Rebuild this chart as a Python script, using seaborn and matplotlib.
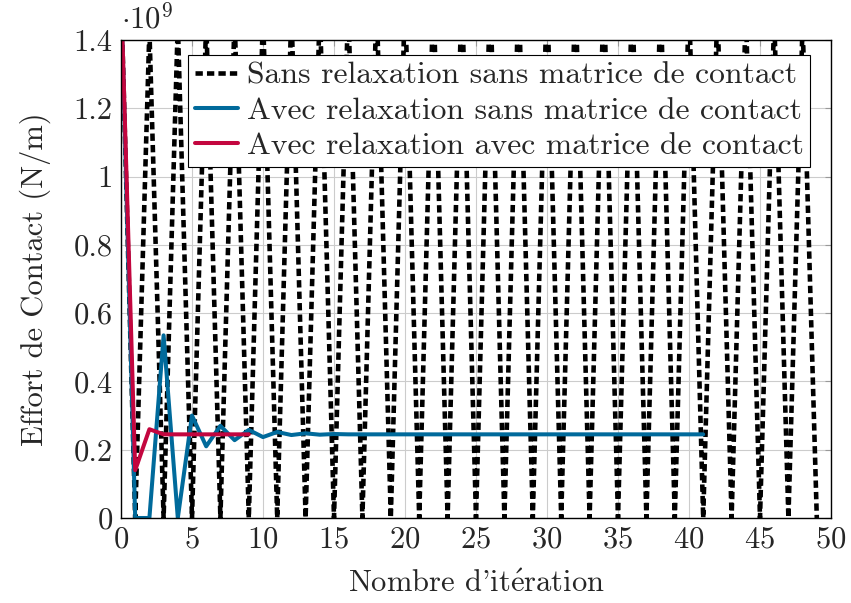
import numpy as np
import pandas as pd
import matplotlib
matplotlib.use("Agg")
import matplotlib.pyplot as plt
import seaborn as sns

# Effort de contact, en 10^9 N/m
it_sans = list(range(50))
effort_sans = [1.55, 0, 1.43, 0, 1.45, 0, 1.46, 0, 1.47, 0,
               1.48, 0, 1.49, 0, 1.50, 0, 1.51, 0, 1.52, 0,
               1.53, 0, 1.54, 0, 1.55, 0, 1.55, 0, 1.55, 0,
               1.55, 0, 1.55, 0, 1.55, 0, 1.54, 0, 1.53, 0,
               1.52, 0, 1.50, 0, 1.49, 0, 1.47, 0, 1.45, 0]

it_relax = list(range(42))
effort_relax = [1.55, 0, 0, 0.535, 0, 0.30, 0.21, 0.27, 0.228, 0.258,
                0.237, 0.252, 0.243, 0.248, 0.244, 0.246, 0.245, 0.245, 0.245, 0.245,
                0.245, 0.245, 0.245, 0.245, 0.245, 0.245, 0.245, 0.245, 0.245, 0.245,
                0.245, 0.245, 0.245, 0.245, 0.245, 0.245, 0.245, 0.245, 0.245, 0.245,
                0.245, 0.245]

it_matrice = list(range(10))
effort_matrice = [1.55, 0.14, 0.26, 0.245, 0.245, 0.245, 0.245, 0.245, 0.245, 0.245]

labels = ["Sans relaxation sans matrice de contact",
          "Avec relaxation sans matrice de contact",
          "Avec relaxation avec matrice de contact"]

sns.set_style("whitegrid")
plt.rcParams["font.family"] = ["cmr10", "DejaVu Serif"]
plt.rcParams["mathtext.fontset"] = "cm"
plt.rcParams["axes.formatter.use_mathtext"] = True

fig = plt.figure(figsize=(8.51, 6.03), dpi=100)
ax = fig.add_axes([121 / 851, 1 - 518 / 603, 710 / 851, 478 / 603])

df_sans = pd.DataFrame({"it": it_sans, "effort": effort_sans})
df_relax = pd.DataFrame({"it": it_relax, "effort": effort_relax})
df_matrice = pd.DataFrame({"it": it_matrice, "effort": effort_matrice})

sns.lineplot(data=df_sans, x="it", y="effort", ax=ax, color="black",
             linewidth=3.3, linestyle=(0, (1.6, 0.9)), label=labels[0])
sns.lineplot(data=df_relax, x="it", y="effort", ax=ax, color="#006A9B",
             linewidth=2.9, label=labels[1])
sns.lineplot(data=df_matrice, x="it", y="effort", ax=ax, color="#C3063F",
             linewidth=2.9, label=labels[2])

fs = 22
ax.set_xlim(0, 50)
ax.set_ylim(0, 1.4)
ax.set_xticks(np.arange(0, 51, 5))
ax.set_yticks(np.arange(0, 1.41, 0.2))
ax.set_yticklabels(["0", "0.2", "0.4", "0.6", "0.8", "1", "1.2", "1.4"])
ax.tick_params(labelsize=fs, direction="in", length=4, top=True, right=True,
               color="#999999", pad=6)
ax.grid(True, color="#cccccc", linewidth=0.8)
for s in ax.spines.values():
    s.set_color("black")
    s.set_linewidth(1.0)

ax.set_xlabel(r"Nombre d'it$\acute{\mathrm{e}}$ration", fontsize=fs, labelpad=12)
ax.set_ylabel("Effort de Contact (N/m)", fontsize=fs, labelpad=16)
ax.text(0.0, 1.012, r"$\cdot 10^{9}$", transform=ax.transAxes,
        fontsize=fs, ha="left", va="bottom")

leg = ax.legend(loc="upper right", bbox_to_anchor=(0.971, 0.969), fontsize=22.8,
                frameon=True, fancybox=False, framealpha=1, edgecolor="black",
                handlelength=1.35, borderpad=0.22, labelspacing=0.22,
                handletextpad=0.28, borderaxespad=0)
leg.get_frame().set_linewidth(0.8)

fig.savefig("out.png", dpi=100)
